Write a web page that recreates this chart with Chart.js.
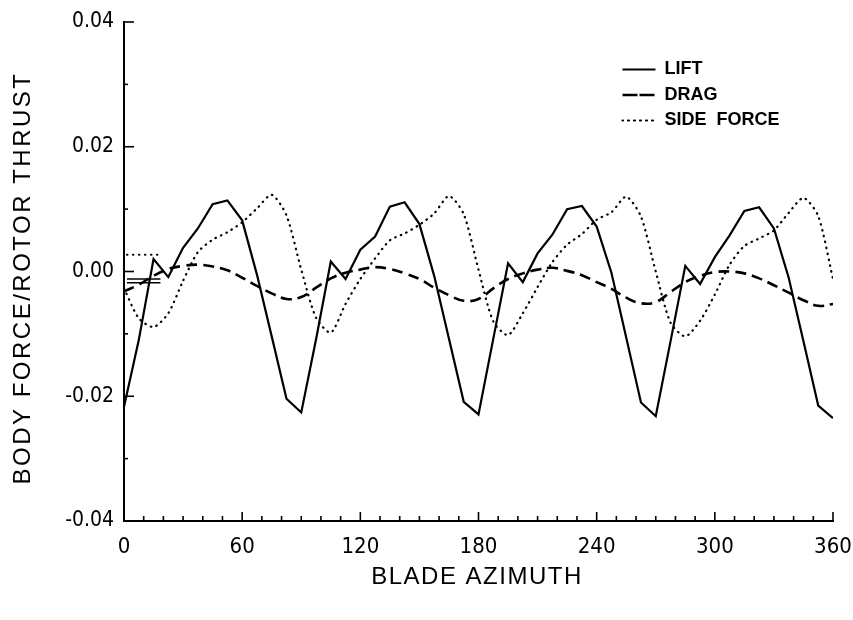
<!DOCTYPE html>
<html>
<head>
<meta charset="utf-8">
<script src="https://cdn.jsdelivr.net/npm/chart.js@4.4.1/dist/chart.umd.min.js"></script>
<style>
  html, body { margin: 0; padding: 0; background: #fff; }
  #wrap { width: 853px; height: 620px; position: relative; }
</style>
</head>
<body>
<div id="wrap"><canvas id="c"></canvas></div>
<script>
// ---- data ----
const azimuth = [0, 7.5, 15, 22.5, 30, 37.5, 45, 52.5, 60, 67.5, 75, 82.5, 90,
  97.5, 105, 112.5, 120, 127.5, 135, 142.5, 150, 157.5, 165, 172.5, 180,
  187.5, 195, 202.5, 210, 217.5, 225, 232.5, 240, 247.5, 255, 262.5, 270,
  277.5, 285, 292.5, 300, 307.5, 315, 322.5, 330, 337.5, 345, 352.5, 360];

const lift = [-0.0217, -0.0110, 0.0020, -0.0009, 0.0038, 0.0069, 0.0108, 0.0114, 0.0082, -0.0005, -0.0104, -0.0204, -0.0226,
  -0.0109, 0.0016, -0.0012, 0.0035, 0.0056, 0.0104, 0.0111, 0.0076, -0.0007, -0.0108, -0.0209, -0.0229,
  -0.0108, 0.0013, -0.0017, 0.0029, 0.0059, 0.0100, 0.0105, 0.0072, -0.0002, -0.0106, -0.0210, -0.0232,
  -0.0112, 0.0009, -0.0020, 0.0023, 0.0058, 0.0097, 0.0103, 0.0069, -0.0010, -0.0112, -0.0215, -0.0235];

const drag = [-0.0032, -0.0021, -0.0007, 0.0004, 0.0009, 0.0011, 0.0008, 0.0002, -0.0010, -0.0023, -0.0035, -0.0044, -0.0041,
  -0.0026, -0.0011, -0.0002, 0.0003, 0.0007, 0.0004, -0.0003, -0.0012, -0.0026, -0.0038, -0.0047, -0.0044,
  -0.0027, -0.0012, -0.0003, 0.0003, 0.0006, 0.0001, -0.0006, -0.0017, -0.0028, -0.0042, -0.0051, -0.0049,
  -0.0033, -0.0017, -0.0007, -0.0001, 0.0000, -0.0003, -0.0011, -0.0022, -0.0034, -0.0046, -0.0055, -0.0052];

const sideForce = [-0.0027, -0.0075, -0.0089, -0.0067, -0.0015, 0.0031, 0.0051, 0.0063, 0.0079, 0.0101, 0.0123, 0.0090, 0.0003,
  -0.0074, -0.0098, -0.0052, -0.0012, 0.0021, 0.0050, 0.0061, 0.0075, 0.0093, 0.0121, 0.0092, 0.0003,
  -0.0080, -0.0102, -0.0067, -0.0025, 0.0015, 0.0043, 0.0060, 0.0083, 0.0095, 0.0120, 0.0088, 0.0000,
  -0.0082, -0.0104, -0.0079, -0.0037, 0.0011, 0.0041, 0.0053, 0.0066, 0.0094, 0.0118, 0.0089, -0.0012];

// short initial marks near azimuth 0
const startAz = [1.5, 18.5];
const startSide = [0.0027, 0.0027];
const startMarkA = [-0.0012, -0.0012];
const startMarkB = [-0.0018, -0.0018];

const xTickLabels = [0, 60, 120, 180, 240, 300, 360];
const xMinorTicks = [10, 20, 30, 40, 50, 70, 80, 90, 100, 110, 130, 140, 150, 160, 170, 190, 200, 210, 220, 230, 250, 260, 270, 280, 290, 310, 320, 330, 340, 350];
const yTickLabels = [-0.04, -0.02, 0.00, 0.02, 0.04];
const yMinorTicks = [-0.03, -0.01, 0.01, 0.03];

const seriesNames = ['LIFT', 'DRAG', 'SIDE  FORCE'];
const xTitle = 'BLADE AZIMUTH';
const yTitle = 'BODY FORCE/ROTOR THRUST';

const pts = (xs, ys) => xs.map((x, i) => ({x: x, y: ys[i]}));

const inwardTicks = {
  id: 'inwardTicks',
  afterDraw(chart) {
    const ctx = chart.ctx, xs = chart.scales.x, ys = chart.scales.y, a = chart.chartArea;
    ctx.save();
    ctx.strokeStyle = '#000';
    ctx.lineWidth = 1.6;
    const yl = (v, len) => { const p = ys.getPixelForValue(v); ctx.beginPath(); ctx.moveTo(a.left, p); ctx.lineTo(a.left + len, p); ctx.stroke(); };
    const xl = (v, len) => { const p = xs.getPixelForValue(v); ctx.beginPath(); ctx.moveTo(p, a.bottom); ctx.lineTo(p, a.bottom - len); ctx.stroke(); };
    yTickLabels.forEach(v => yl(v, 10));
    yMinorTicks.forEach(v => yl(v, 4));
    xTickLabels.forEach(v => xl(v, 9));
    xMinorTicks.forEach(v => xl(v, 5));
    // axis titles
    ctx.fillStyle = '#000';
    ctx.font = '24px "Liberation Sans", Arial, sans-serif';
    ctx.textAlign = 'center';
    ctx.textBaseline = 'middle';
    ctx.letterSpacing = '1.5px';
    ctx.fillText(xTitle, 477, 577);
    ctx.translate(23, 278);
    ctx.rotate(-Math.PI / 2);
    ctx.letterSpacing = '2.5px';
    ctx.fillText(yTitle, 0, 0);
    ctx.restore();
  }
};

const placeLegend = {
  id: 'placeLegend',
  afterLayout(chart) {
    const lg = chart.legend;
    if (!lg) return;
    const w = lg.width, h = lg.height;
    lg.left = 615; lg.top = 53; lg.right = lg.left + w; lg.bottom = lg.top + h + 10;
  }
};

new Chart(document.getElementById('c'), {
  type: 'line',
  data: {
    datasets: [
      { label: seriesNames[0], data: pts(azimuth, lift), borderColor: '#000', backgroundColor: 'transparent', borderWidth: 2.2, tension: 0, pointRadius: 0 },
      { label: seriesNames[1], data: pts(azimuth, drag), borderColor: '#000', backgroundColor: 'transparent', borderWidth: 2.6, borderDash: [11, 6], tension: 0.4, pointRadius: 0 },
      { label: seriesNames[2], data: pts(azimuth, sideForce), borderColor: '#000', backgroundColor: 'transparent', borderWidth: 2.2, borderDash: [0.5, 5.5], borderCapStyle: 'round', tension: 0.25, pointRadius: 0 },
      { label: 'm1', data: pts(startAz, startSide), borderColor: '#000', borderWidth: 2, borderDash: [0.5, 5.5], borderCapStyle: 'round', pointRadius: 0 },
      { label: 'm2', data: pts(startAz, startMarkA), borderColor: '#000', borderWidth: 1.5, pointRadius: 0 },
      { label: 'm3', data: pts(startAz, startMarkB), borderColor: '#000', borderWidth: 1.5, pointRadius: 0 }
    ]
  },
  options: {
    responsive: true,
    maintainAspectRatio: false,
    animation: false,
    layout: { padding: { left: 0, right: 20, top: 22, bottom: 0 } },
    plugins: {
      tooltip: { enabled: false },
      legend: {
        position: 'chartArea',
        align: 'start',
        labels: {
          boxWidth: 33,
          boxHeight: 0,
          padding: 7.5,
          color: '#000',
          font: { family: '"Liberation Sans", Arial, sans-serif', size: 18, weight: 'bold' },
          filter: (item) => item.datasetIndex < 3
        }
      }
    },
    scales: {
      x: {
        type: 'linear', min: 0, max: 360,
        afterBuildTicks: (s) => { s.ticks = xTickLabels.map(v => ({value: v})); },
        afterFit: (s) => { s.height = 99; s.paddingLeft = 0; s.paddingRight = 0; },
        grid: { display: true, drawOnChartArea: false, drawTicks: false },
        border: { display: true, color: '#000', width: 2 },
        ticks: { color: '#000', padding: 13, maxRotation: 0, autoSkip: false,
          font: { family: '"Liberation Sans Narrow", "DejaVu Sans Condensed", sans-serif', size: 22 } }
      },
      y: {
        type: 'linear', min: -0.04, max: 0.04,
        afterBuildTicks: (s) => { s.ticks = yTickLabels.map(v => ({value: v})); },
        afterFit: (s) => { s.width = 124; s.paddingTop = 0; s.paddingBottom = 0; },
        grid: { display: true, drawOnChartArea: false, drawTicks: false },
        border: { display: true, color: '#000', width: 2 },
        ticks: { color: '#000', padding: 10, autoSkip: false,
          callback: (v) => Number(v).toFixed(2),
          font: { family: '"Liberation Sans Narrow", "DejaVu Sans Condensed", sans-serif', size: 21 } }
      }
    }
  },
  plugins: [inwardTicks, placeLegend]
});
</script>
</body>
</html>
